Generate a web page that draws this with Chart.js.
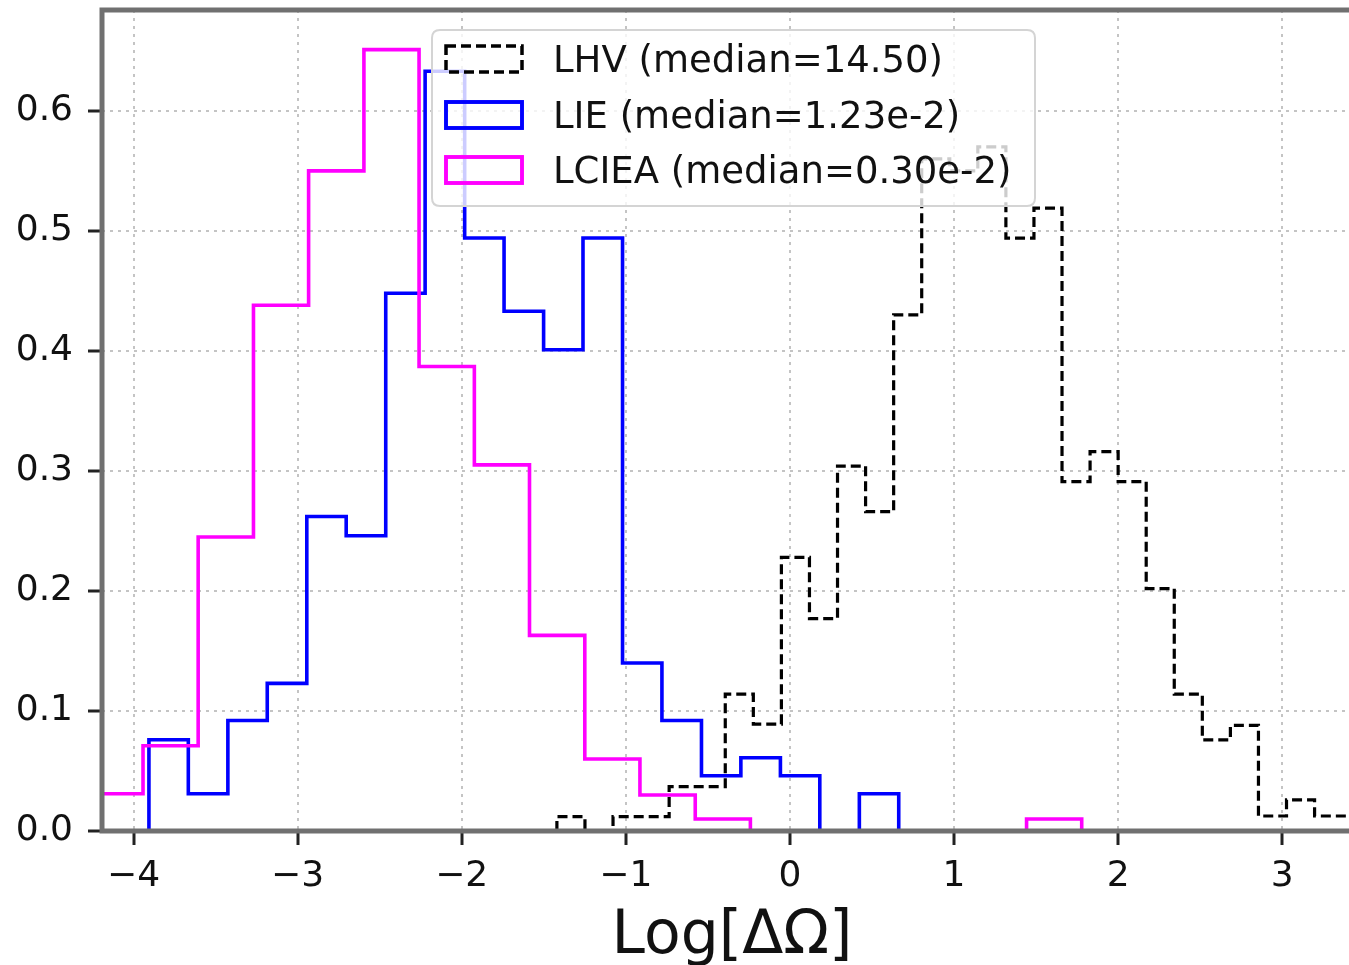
<!DOCTYPE html>
<html>
<head>
<meta charset="utf-8">
<script src="https://cdn.jsdelivr.net/npm/chart.js@4.4.1/dist/chart.umd.min.js"></script>
<style>
html,body{margin:0;padding:0;overflow:hidden;background:#fff;width:1349px;height:965px;}
#wrap{position:relative;width:1362px;height:965px;}
</style>
</head>
<body>
<div id="wrap"><canvas id="c" width="1362" height="965"></canvas></div>
<script>
// ---- data ----
const seriesLabels = ['LHV (median=14.50)', 'LIE (median=1.23e-2)', 'LCIEA (median=0.30e-2)'];

const lhvEdges = [-1.420, -1.249, -1.078, -0.907, -0.736, -0.565, -0.394, -0.223, -0.052, 0.119,
                  0.290, 0.461, 0.632, 0.803, 0.974, 1.145, 1.316, 1.487, 1.658, 1.829,
                  2.000, 2.171, 2.342, 2.513, 2.684, 2.855, 3.026, 3.197, 3.368, 3.539];
const lhvDensity = [0.012, 0.000, 0.012, 0.012, 0.037, 0.037, 0.114, 0.089, 0.228, 0.177,
                    0.304, 0.266, 0.430, 0.560, 0.550, 0.570, 0.494, 0.519, 0.291, 0.316,
                    0.291, 0.202, 0.114, 0.076, 0.088, 0.0125, 0.026, 0.0125, 0.0125];

const lieEdges = [-3.906, -3.666, -3.425, -3.185, -2.944, -2.704, -2.463, -2.223, -1.982, -1.742,
                  -1.501, -1.261, -1.020, -0.780, -0.539, -0.299, -0.058, 0.182, 0.423, 0.663];
const lieDensity = [0.076, 0.031, 0.092, 0.123, 0.262, 0.246, 0.448, 0.633, 0.494, 0.433,
                    0.401, 0.494, 0.140, 0.092, 0.046, 0.061, 0.046, 0.000, 0.031];

const lcieaEdges = [-4.279, -3.942, -3.606, -3.269, -2.933, -2.596, -2.260, -1.923, -1.587, -1.250,
                    -0.914, -0.577, -0.241, 0.096, 0.432, 0.769, 1.105, 1.442, 1.778];
const lcieaDensity = [0.031, 0.071, 0.245, 0.438, 0.550, 0.651, 0.387, 0.305, 0.163, 0.060,
                      0.030, 0.010, 0.000, 0.000, 0.000, 0.000, 0.000, 0.010];

const xTicks = [-4, -3, -2, -1, 0, 1, 2, 3];
const yTicks = [0.0, 0.1, 0.2, 0.3, 0.4, 0.5, 0.6];
const xTitle = 'Log[ΔΩ]';

// ---- build step outlines (matplotlib histtype="step") ----
function stepPoints(edges, vals) {
  const pts = [{x: edges[0], y: 0}];
  for (let i = 0; i < vals.length; i++) pts.push({x: edges[i], y: vals[i]});
  pts.push({x: edges[edges.length - 1], y: vals[vals.length - 1]});
  pts.push({x: edges[edges.length - 1], y: 0});
  return pts;
}

const FONT = "'DejaVu Sans', 'Liberation Sans', sans-serif";
Chart.defaults.font.family = FONT;
Chart.defaults.color = '#111';

const spinePlugin = {
  id: 'spines',
  afterDatasetsDraw(chart) {
    const {ctx, chartArea: a} = chart;
    ctx.save();
    ctx.strokeStyle = '#707070';
    ctx.lineWidth = 5;
    ctx.lineCap = 'butt';
    ctx.beginPath();
    ctx.moveTo(a.left, a.top - 2.5); ctx.lineTo(a.left, a.bottom + 2.5);
    ctx.moveTo(a.left, a.top); ctx.lineTo(a.right, a.top);
    ctx.moveTo(a.left, a.bottom); ctx.lineTo(a.right, a.bottom);
    ctx.stroke();
    ctx.restore();
  }
};

const legendPlugin = {
  id: 'boxLegend',
  afterDraw(chart) {
    const ctx = chart.ctx;
    const bx = 432, by = 30, bw = 603, bh = 176, r = 8;
    ctx.save();
    ctx.beginPath();
    ctx.moveTo(bx + r, by);
    ctx.lineTo(bx + bw - r, by); ctx.quadraticCurveTo(bx + bw, by, bx + bw, by + r);
    ctx.lineTo(bx + bw, by + bh - r); ctx.quadraticCurveTo(bx + bw, by + bh, bx + bw - r, by + bh);
    ctx.lineTo(bx + r, by + bh); ctx.quadraticCurveTo(bx, by + bh, bx, by + bh - r);
    ctx.lineTo(bx, by + r); ctx.quadraticCurveTo(bx, by, bx + r, by);
    ctx.closePath();
    ctx.fillStyle = 'rgba(255,255,255,0.8)';
    ctx.fill();
    ctx.strokeStyle = '#d4d4d4';
    ctx.lineWidth = 2;
    ctx.stroke();

    const rows = [59, 115, 170];
    chart.data.datasets.forEach((ds, i) => {
      const cy = rows[i];
      ctx.save();
      ctx.strokeStyle = ds.borderColor;
      ctx.lineWidth = ds.borderWidth + 0.3;
      ctx.setLineDash(ds.borderDash || []);
      ctx.strokeRect(446, cy - 13, 76, 26);
      ctx.restore();
      ctx.fillStyle = '#111';
      ctx.font = '37px ' + FONT;
      ctx.textBaseline = 'middle';
      ctx.textAlign = 'left';
      ctx.fillText(ds.label, 553, cy + 3);
    });
    ctx.restore();
  }
};

const common = {pointRadius: 0, pointHoverRadius: 0, fill: false, stepped: 'before', tension: 0};

new Chart(document.getElementById('c'), {
  type: 'line',
  data: {
    datasets: [
      Object.assign({label: seriesLabels[0], data: stepPoints(lhvEdges, lhvDensity),
        borderColor: '#000000', borderWidth: 3.2, borderDash: [10, 5], order: 3}, common),
      Object.assign({label: seriesLabels[1], data: stepPoints(lieEdges, lieDensity),
        borderColor: '#0000ff', borderWidth: 3.6, order: 2}, common),
      Object.assign({label: seriesLabels[2], data: stepPoints(lcieaEdges, lcieaDensity),
        borderColor: '#ff00ff', borderWidth: 3.6, order: 1}, common)
    ]
  },
  options: {
    responsive: false,
    animation: false,
    devicePixelRatio: 1,
    layout: {padding: {top: 10, left: 0, right: 0, bottom: 0}},
    plugins: {legend: {display: false}, tooltip: {enabled: false}, title: {display: false}},
    scales: {
      x: {
        type: 'linear',
        min: -4.192,
        max: 3.486,
        afterBuildTicks: s => { s.ticks = xTicks.map(v => ({value: v})); },
        afterFit: s => { s.height = 134; s.paddingLeft = 0; s.paddingRight = 0; },
        ticks: {
          autoSkip: false, maxRotation: 0, padding: 10,
          font: {size: 36}, color: '#111',
          callback: v => (v < 0 ? '\u2212' + Math.abs(v) : String(v))
        },
        grid: {color: '#c4c4c4', lineWidth: 2, tickLength: 14, tickColor: '#222', tickWidth: 3, tickBorderDash: []},
        border: {display: false, dash: [3, 5]},
        title: {display: true, text: xTitle, font: {size: 60}, color: '#111', padding: {top: 0, bottom: -8}}
      },
      y: {
        type: 'linear',
        min: 0,
        max: 0.684,
        afterBuildTicks: s => { s.ticks = yTicks.map(v => ({value: v})); },
        afterFit: s => { s.width = 102; s.paddingTop = 0; s.paddingBottom = 0; },
        ticks: {
          padding: 15, font: {size: 36}, color: '#111',
          callback: v => Number(v).toFixed(1)
        },
        grid: {color: '#c4c4c4', lineWidth: 2, tickLength: 14, tickColor: '#222', tickWidth: 3, tickBorderDash: []},
        border: {display: false, dash: [3, 5]}
      }
    }
  },
  plugins: [spinePlugin, legendPlugin]
});
</script>
</body>
</html>
